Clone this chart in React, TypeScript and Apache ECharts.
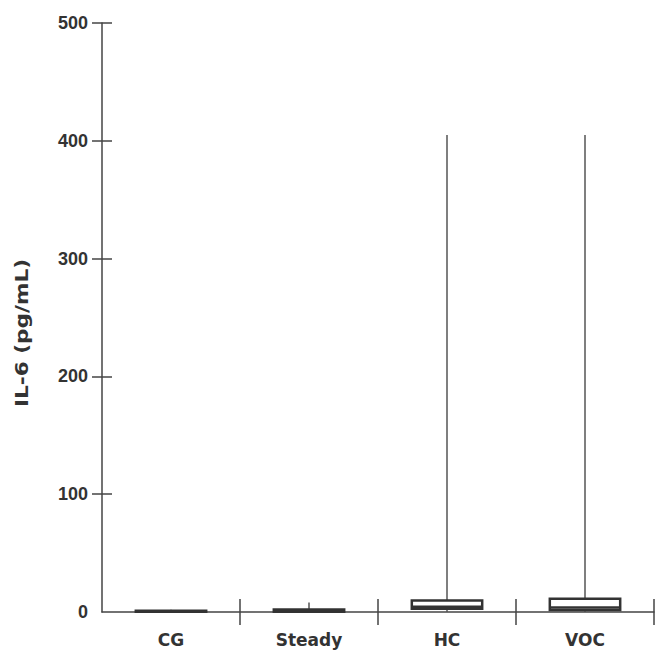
import React, { useEffect, useRef } from "react";
import * as echarts from "echarts";

const categories = ["CG", "Steady", "HC", "VOC"];
const whiskerLow = [0, 0, 0, 0];
const q1Values = [0.2, 0.3, 2.8, 1.8];
const medianValues = [0.6, 1.2, 4.5, 3.8];
const q3Values = [1.0, 2.1, 9.8, 11.2];
const whiskerHigh = [2, 8, 405, 405];
const yTickValues = [100, 200, 300, 400, 500];
const xTickValues = [1, 2, 3, 4];
const yAxisName = "IL-6 (pg/mL)";

const TEXT = "#333333";
const LINE = "#444444";
const FONT = "'Liberation Sans', Arial, sans-serif";
const WIDE_FONT = "'DejaVu Sans', sans-serif";

export default function App() {
  const ref = useRef<HTMLDivElement>(null);
  useEffect(() => {
    if (!ref.current) return;
    const chart = echarts.init(ref.current, null, { renderer: "svg" });
    const data = categories.map((c, i) => [
      i,
      whiskerLow[i],
      q1Values[i],
      medianValues[i],
      q3Values[i],
      whiskerHigh[i],
    ]);
    const valueAxisBase = {
      type: "value",
      min: 0,
      max: 500,
      interval: 100,
      position: "left",
      splitLine: { show: false },
    };
    const xTickAxisBase = {
      type: "value",
      min: 0,
      max: 4,
      interval: 1,
      position: "bottom",
      axisLine: { show: false },
      axisLabel: { show: false },
      splitLine: { show: false },
    };
    chart.setOption({
      animation: false,
      backgroundColor: "#ffffff",
      grid: { left: 102, right: 1, top: 23, bottom: 41, outerBoundsMode: "none" },
      xAxis: [
        {
          type: "category",
          data: categories,
          boundaryGap: true,
          position: "bottom",
          axisLine: { show: true, lineStyle: { color: LINE, width: 1.5 } },
          axisTick: { show: false },
          axisLabel: {
            margin: 19,
            color: TEXT,
            fontSize: 17,
            fontWeight: "bold",
            fontFamily: WIDE_FONT,
          },
        },
        {
          ...xTickAxisBase,
          axisTick: {
            show: true,
            inside: true,
            length: 13,
            customValues: xTickValues,
            lineStyle: { color: LINE, width: 1.5 },
          },
        },
        {
          ...xTickAxisBase,
          axisTick: {
            show: true,
            inside: false,
            length: 13,
            customValues: xTickValues,
            lineStyle: { color: LINE, width: 1.5 },
          },
        },
      ],
      yAxis: [
        {
          ...valueAxisBase,
          axisLine: { show: true, lineStyle: { color: LINE, width: 1.5 } },
          axisTick: {
            show: true,
            inside: true,
            length: 10,
            customValues: yTickValues,
            lineStyle: { color: LINE, width: 1.5 },
          },
          axisLabel: {
            margin: 14,
            color: TEXT,
            fontSize: 18,
            fontWeight: "bold",
            fontFamily: FONT,
          },
        },
        {
          ...valueAxisBase,
          axisLine: { show: false },
          axisLabel: { show: false },
          axisTick: {
            show: true,
            inside: false,
            length: 10,
            customValues: yTickValues,
            lineStyle: { color: LINE, width: 1.5 },
          },
        },
      ],
      graphic: [
        {
          type: "text",
          x: 22,
          y: 333,
          rotation: Math.PI / 2,
          scaleX: 1.2,
          style: {
            text: yAxisName,
            font: "bold 18px 'DejaVu Sans', sans-serif",
            fill: TEXT,
            textAlign: "center",
            textVerticalAlign: "middle",
          },
        },
      ],
      series: [
        {
          type: "custom",
          xAxisIndex: 0,
          yAxisIndex: 0,
          clip: false,
          data,
          renderItem: (params: any, api: any) => {
            const x = api.value(0);
            const lo = api.coord([x, api.value(1)]);
            const q1 = api.coord([x, api.value(2)]);
            const med = api.coord([x, api.value(3)]);
            const q3 = api.coord([x, api.value(4)]);
            const hi = api.coord([x, api.value(5)]);
            const bw = api.size([1, 0])[0] * 0.51;
            const cx = lo[0];
            const whiskerStyle = { stroke: "#555555", lineWidth: 1.5 };
            const boxStroke = "#333333";
            return {
              type: "group",
              children: [
                {
                  type: "line",
                  shape: { x1: cx, y1: lo[1], x2: cx, y2: q1[1] },
                  style: whiskerStyle,
                },
                {
                  type: "line",
                  shape: { x1: cx, y1: q3[1], x2: cx, y2: hi[1] },
                  style: whiskerStyle,
                },
                {
                  type: "rect",
                  shape: {
                    x: cx - bw / 2,
                    y: q3[1],
                    width: bw,
                    height: Math.max(q1[1] - q3[1], 0.5),
                  },
                  style: { fill: "#ffffff", stroke: boxStroke, lineWidth: 2.5 },
                },
                {
                  type: "line",
                  shape: { x1: cx - bw / 2, y1: med[1], x2: cx + bw / 2, y2: med[1] },
                  style: { stroke: boxStroke, lineWidth: 2.5 },
                },
              ],
            };
          },
        },
      ],
    });
    return () => chart.dispose();
  }, []);
  return (
    <div
      ref={ref}
      style={{ position: "absolute", left: 0, top: 0, width: 655, height: 653 }}
    />
  );
}
